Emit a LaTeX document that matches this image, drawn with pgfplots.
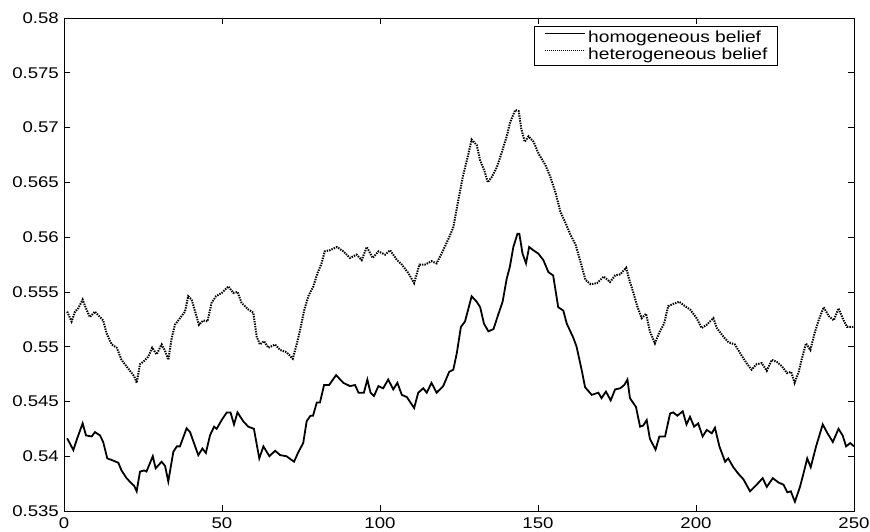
\documentclass[border=0pt]{standalone}
\usepackage{fontspec}
\setmainfont[FakeStretch=1.2]{Liberation Sans}
\usepackage{pgfplots}
\pgfplotsset{compat=1.18}
\begin{document}
\begin{tikzpicture}
\begin{axis}[
  scale only axis,
  width=790pt, height=493pt,
  xmin=0, xmax=250, ymin=0.535, ymax=0.58,
  xtick={0,50,100,150,200,250},
  xticklabels={0,50,100,150,200,250},
  ytick={0.535,0.54,0.545,0.55,0.555,0.56,0.565,0.57,0.575,0.58},
  yticklabels={0.535,0.54,0.545,0.55,0.555,0.56,0.565,0.57,0.575,0.58},
  tick align=inside,
  major tick length=6pt,
  tick style={black, line width=0.7pt},
  axis line style={black, line width=0.8pt},
  ticklabel style={font=\fontsize{15.5}{18}\selectfont},
  yticklabel style={inner sep=0pt, xshift=-5pt},
  xticklabel style={inner sep=0pt, yshift=-6pt},
  legend style={at={(0.595,0.984)}, anchor=north west, draw=black, line width=0.7pt,
    inner xsep=10pt, inner ysep=3pt, row sep=0pt,
    font=\fontsize{16}{19}\selectfont,
    nodes={inner sep=0pt, text height=13.5pt, text depth=3.2pt},
    /tikz/column sep=3pt},
  legend cell align=left,
  clip=false,
]
\addplot[black, line width=1.8pt, legend image code/.code={\draw[black, line width=0.8pt] (0pt,4pt) -- (40pt,4pt);}] coordinates {
(1,0.54164) (2.95,0.54057) (4.0,0.54148) (5.9,0.5430) (6.96,0.5419) (8.76,0.5418) (9.8,0.5422) (11.4,0.5419) (12.4,0.5413) (13.7,0.5398)
(15.6,0.5396) (17.2,0.5394) (18.2,0.5387) (19.8,0.5380) (21.4,0.5375) (22.2,0.5373) (23.0,0.5368) (24.05,0.5386) (25.4,0.5387) (26.1,0.5386)
(28.1,0.5400) (29.0,0.5389) (30.9,0.5395) (32.0,0.5391) (33.0,0.5377) (34.6,0.5404) (35.7,0.5409) (36.7,0.5409) (37.2,0.5413) (38.8,0.54255)
(39.9,0.5422) (41.5,0.5409) (42.5,0.5401) (43.8,0.5407) (44.9,0.5403) (46.2,0.5419) (47.5,0.5427) (48.3,0.5425) (49.9,0.5433) (51.5,0.5440)
(52.7,0.5440) (53.8,0.5429) (54.9,0.5440) (56.7,0.5432) (58.3,0.5427) (60.1,0.5425) (61.8,0.5398) (63.1,0.5409) (65.0,0.5400) (66.8,0.5405)
(68.4,0.5401) (70.4,0.5400) (72.8,0.5395) (74.2,0.5404) (75.7,0.5412) (76.8,0.5432) (78.0,0.5437) (78.8,0.5437) (80.0,0.5449) (81.0,0.5449)
(82.3,0.5465) (83.9,0.5465) (86.1,0.5474) (88.4,0.5467) (90.5,0.5464) (92.1,0.5465) (93.2,0.5458) (94.9,0.5458) (96.0,0.5470) (97.0,0.5458)
(98.1,0.5455) (99.5,0.5464) (101.0,0.5462) (102.6,0.5470) (104.2,0.5461) (105.5,0.5467) (106.9,0.5456) (108.5,0.5454) (110.8,0.5444) (112.1,0.5458)
(113.7,0.5462) (114.8,0.5458) (116.3,0.5467) (117.9,0.5458) (120.0,0.5464) (121.9,0.5477) (123.2,0.5479) (124.3,0.5494) (125.6,0.5518) (126.9,0.5523)
(128.0,0.5535) (129.0,0.5546) (130.6,0.5541) (131.7,0.5536) (132.9,0.5521) (134.3,0.5514) (135.9,0.5516) (137.5,0.5530) (138.8,0.5541) (140.1,0.5562)
(141.1,0.5573) (142.2,0.5591) (143.5,0.5603) (144.1,0.5603) (145.1,0.5585) (146.2,0.5576) (147.2,0.5591) (148.5,0.5588) (150.1,0.5585) (151.7,0.5579)
(153.3,0.5568) (154.8,0.5565) (156.4,0.5536) (158.0,0.5533) (159.1,0.5521) (161.2,0.5508) (162.2,0.5500) (163.8,0.5479) (164.9,0.5463) (167.0,0.5456)
(169.1,0.5458) (170.1,0.5453) (171.5,0.5459) (173.0,0.5451) (174.4,0.5461) (176.0,0.5462) (177.3,0.5465) (178.3,0.5470) (179.1,0.5453) (181.0,0.5445)
(182.3,0.5427) (183.3,0.5428) (184.4,0.5433) (185.4,0.5416) (187.2,0.5406) (188.4,0.5418) (190.2,0.5418) (191.8,0.5439) (192.8,0.5440) (194.1,0.5437)
(195.8,0.5441) (197.0,0.5429) (198.1,0.5436) (199.4,0.5427) (200.7,0.5430) (202.1,0.5418) (203.4,0.5424) (205.0,0.5421) (206.0,0.5426) (207.4,0.5409)
(209.2,0.5395) (210.2,0.5398) (211.8,0.5390) (213.4,0.5384) (215.0,0.5379) (217.1,0.5368) (219.2,0.5374) (221.1,0.5380) (222.4,0.5372) (224.3,0.5380)
(226.1,0.5376) (227.7,0.5374) (228.9,0.5367) (230.0,0.5368) (231.3,0.53585) (232.9,0.5372) (234.0,0.5384) (235.2,0.5398) (236.3,0.5390) (238.0,0.5409)
(240.1,0.5429) (241.6,0.5421) (243.3,0.5413) (245.1,0.5425) (246.4,0.5419) (247.5,0.5409) (248.8,0.5412) (250,0.5409)
};
\addlegendentry{homogeneous belief}
\addplot[black, line width=2pt, dash pattern=on 1.4pt off 1.1pt, legend image code/.code={\draw[black, line width=0.8pt, dash pattern=on 0.8pt off 1.2pt] (0pt,4pt) -- (40pt,4pt);}] coordinates {
(1.0,0.5532) (2.4,0.5523) (3.5,0.5532) (4.5,0.5535) (5.9,0.5543) (6.96,0.5535) (8.2,0.5527) (9.8,0.5532) (11.4,0.5527) (12.4,0.5524)
(13.5,0.5512) (15.1,0.5502) (16.7,0.5499) (18.2,0.5488) (19.8,0.5482) (21.4,0.5476) (22.2,0.5473) (23.0,0.5467) (24.05,0.5484) (25.4,0.5487)
(26.7,0.5491) (27.9,0.5499) (29.3,0.5493) (30.9,0.5502) (32.0,0.5496) (33.0,0.5488) (34.1,0.5508) (35.1,0.5520) (36.7,0.5526) (38.3,0.5532)
(39.3,0.5546) (40.4,0.5543) (42.0,0.5527) (42.7,0.5520) (44.1,0.5524) (45.4,0.5523) (46.7,0.5540) (48.1,0.5546) (49.9,0.5549) (52.0,0.5555)
(53.6,0.5549) (54.9,0.5550) (56.2,0.5540) (58.3,0.5534) (59.9,0.5531) (61.0,0.5509) (62.0,0.5502) (63.3,0.5505) (64.7,0.5499) (66.8,0.5502)
(68.4,0.5497) (70.4,0.5495) (72.4,0.5489) (73.7,0.5503) (74.7,0.5515) (76.0,0.5533) (77.3,0.5546) (78.9,0.5555) (80.2,0.5567) (81.5,0.5576)
(82.5,0.5587) (84.1,0.5588) (86.4,0.5591) (88.4,0.5587) (90.5,0.5581) (92.6,0.5584) (94.2,0.5579) (95.8,0.5591) (97.7,0.5581) (99.5,0.5587)
(101.6,0.5584) (103.2,0.5588) (105.4,0.5579) (106.9,0.5575) (109.0,0.5567) (110.8,0.5558) (112.5,0.5575) (114.3,0.5575) (116.3,0.5578) (117.9,0.5576)
(120.0,0.5588) (121.9,0.5600) (123.2,0.5609) (124.8,0.5634) (126.2,0.5655) (127.9,0.5675) (129.0,0.5689) (130.6,0.5684) (131.7,0.5670) (133.1,0.5660)
(134.1,0.5650) (135.4,0.5655) (137.0,0.5664) (138.6,0.5678) (140.2,0.5693) (141.2,0.5705) (142.8,0.5716) (143.9,0.5715) (144.7,0.5699) (145.8,0.5687)
(147.0,0.5692) (148.6,0.5687) (150.2,0.5676) (152.3,0.5666) (153.9,0.5655) (155.5,0.5641) (157.1,0.5623) (158.7,0.5613) (160.3,0.5602) (161.9,0.5593)
(163.4,0.5578) (165.0,0.5561) (166.6,0.5557) (168.7,0.5558) (170.8,0.5564) (172.8,0.5559) (174.4,0.5565) (176.0,0.5566) (177.9,0.5572) (178.9,0.5561)
(180.2,0.5549) (181.4,0.5537) (182.8,0.5526) (184.2,0.5530) (185.4,0.5514) (187.0,0.5503) (188.4,0.5513) (189.9,0.5521) (191.2,0.5537) (192.8,0.5539)
(194.7,0.5541) (196.5,0.5537) (198.1,0.5534) (200.2,0.5526) (201.8,0.5517) (203.4,0.5520) (205.5,0.5526) (206.6,0.5517) (208.7,0.5509) (210.3,0.5504)
(212.3,0.5502) (214.4,0.5492) (216.0,0.5485) (217.6,0.5479) (219.2,0.5484) (220.8,0.5485) (222.4,0.5478) (224.0,0.5488) (225.6,0.5486) (227.2,0.5482)
(228.8,0.5476) (230.1,0.5477) (231.2,0.5467) (232.5,0.5477) (233.5,0.5489) (234.8,0.5503) (236.2,0.5497) (237.5,0.5512) (238.8,0.5524) (240.4,0.5536)
(242.0,0.5528) (243.6,0.5524) (245.1,0.5535) (246.7,0.5524) (247.8,0.5518) (250,0.5518)
};
\addlegendentry{heterogeneous belief}
\end{axis}
\path (current axis.south west) ++(-64pt,-20pt) rectangle ++(870pt,531pt);
\end{tikzpicture}
\end{document}
